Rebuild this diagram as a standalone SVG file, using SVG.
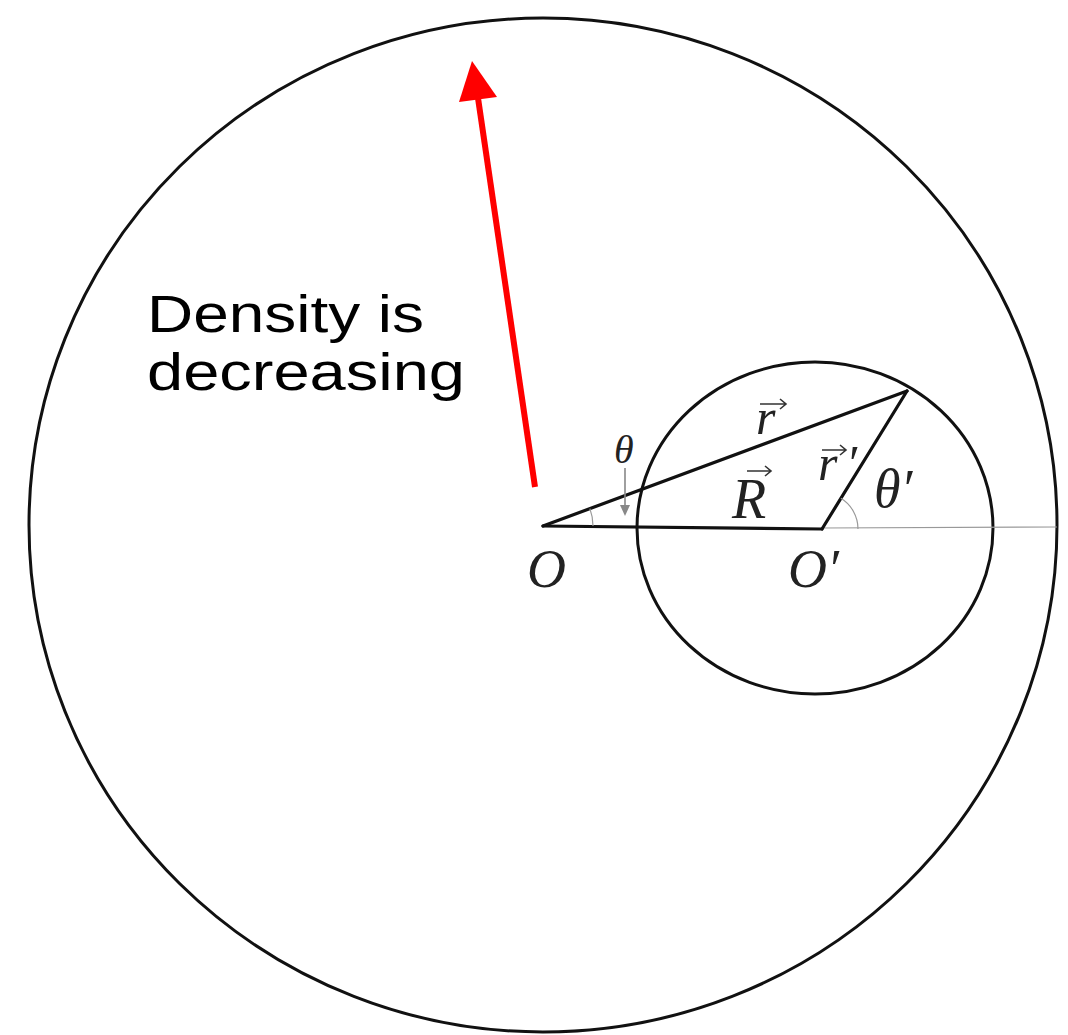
<svg xmlns="http://www.w3.org/2000/svg" width="1068" height="1035" viewBox="0 0 1068 1035">
<style>
.circ{fill:none;stroke:#111;stroke-width:3}
.seg{fill:none;stroke:#111;stroke-width:3.2;stroke-linecap:round}
.thin{fill:none;stroke:#999;stroke-width:1.2}
.math{font-family:"Liberation Serif","DejaVu Serif",serif;font-style:italic;fill:#222}
.vec{fill:none;stroke:#333;stroke-width:1.6}
.cap{font-family:"Liberation Sans",Arial,sans-serif;font-size:51px;fill:#000}
</style>
<rect width="1068" height="1035" fill="#fff"/>
<g id="outer-circle"><ellipse class="circ" cx="543" cy="525" rx="514" ry="507"/></g>
<g id="inner-circle"><ellipse class="circ" cx="815" cy="528" rx="178" ry="166"/></g>
<g id="connectors">
<line class="thin" x1="822" y1="528" x2="1057" y2="527"/>
<line class="seg" x1="543" y1="526" x2="822" y2="529"/>
<line class="seg" x1="543" y1="526" x2="907" y2="391"/>
<line class="seg" x1="907" y1="391" x2="822" y2="529"/>
<path class="thin" d="M593,526 A50,50 0 0 0 589.9,508.6"/>
<path class="thin" d="M858,529 A36,36 0 0 0 840.9,498.3"/>
<line x1="625" y1="468" x2="625" y2="508" stroke="#888" stroke-width="1.6"/>
<path d="M620,505 L625,516 L630,505 Z" fill="#888"/>
<line x1="535" y1="487" x2="478" y2="98" stroke="#f00" stroke-width="6"/>
<polygon points="472,61 459,102 497,97" fill="#f00"/>
</g>
<g id="label-O"><text class="math" x="527" y="587" font-size="54">O</text></g>
<g id="label-Oprime"><text class="math" x="788" y="587" font-size="54">O′</text></g>
<g id="label-R">
<text class="math" x="732" y="518" font-size="56">R</text>
<path class="vec" d="M747,471 L770,471 M765,466 L771,471 L765,476"/>
</g>
<g id="label-r">
<text class="math" x="756" y="434" font-size="50">r</text>
<path class="vec" d="M760,404 L785,404 M780,399 L786,404 L780,409"/>
</g>
<g id="label-rprime">
<text class="math" x="818" y="480" font-size="50">r</text>
<text class="math" x="846" y="480" font-size="50">′</text>
<path class="vec" d="M822,450 L845,450 M840,445 L846,450 L840,455"/>
</g>
<g id="label-theta"><text class="math" x="614" y="463" font-size="40">θ</text></g>
<g id="label-thetaprime"><text class="math" x="874" y="507" font-size="54">θ′</text></g>
<g id="caption">
<text class="cap" x="147" y="332" textLength="277" lengthAdjust="spacingAndGlyphs">Density is</text>
<text class="cap" x="147" y="390" textLength="318" lengthAdjust="spacingAndGlyphs">decreasing</text>
</g>
</svg>
